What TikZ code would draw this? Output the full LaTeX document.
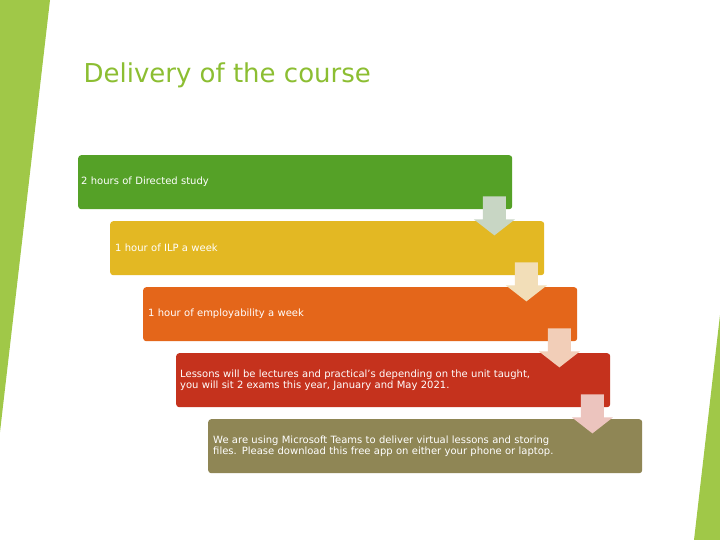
\documentclass[tikz,border=0pt]{standalone}
\usepackage{fontspec}
\setmainfont{DejaVu Sans}
\begin{document}
\begin{tikzpicture}[x=1pt,y=-1pt,
  stepbox/.style={rounded corners=3pt,minimum width=434pt,minimum height=54pt,anchor=north west,inner sep=0pt},
  txt/.style={anchor=west,text=white,font=\fontsize{10}{11.5}\selectfont,align=left,text width=350pt,inner sep=0pt}]
\useasboundingbox (0,0) rectangle (720,540);
\fill[white] (0,0) rectangle (720,540);
\fill[fill={rgb,255:red,160;green,200;blue,72}] (0,0) -- (50,0) -- (0,432) -- cycle;
\fill[fill={rgb,255:red,160;green,200;blue,72}] (720,315) -- (720,540) -- (694,540) -- cycle;
\node[anchor=west,text={rgb,255:red,140;green,190;blue,50},font=\fontsize{26}{30}\selectfont] (title) at (80,75) {Delivery of the course};
\definecolor{c1}{RGB}{85,161,39}
\definecolor{c2}{RGB}{227,184,35}
\definecolor{c3}{RGB}{228,102,26}
\definecolor{c4}{RGB}{197,50,29}
\definecolor{c5}{RGB}{143,134,85}
\definecolor{a1}{RGB}{200,214,196}
\definecolor{a2}{RGB}{242,222,184}
\definecolor{a3}{RGB}{242,206,184}
\definecolor{a4}{RGB}{236,196,190}
\node[stepbox,fill=c1] (b1) at (78,155) {};
\node[stepbox,fill=c2] (b2) at (110,221) {};
\node[stepbox,fill=c3] (b3) at (143,287) {};
\node[stepbox,fill=c4] (b4) at (176,353) {};
\node[stepbox,fill=c5] (b5) at (208,419) {};
\node[txt] (t1) at ([xshift=3pt]b1.west) {2 hours of Directed study};
\node[txt] (t2) at ([xshift=5pt]b2.west) {1 hour of ILP a week};
\node[txt] (t3) at ([xshift=5pt]b3.west) {1 hour of employability a week};
\node[txt] (t4) at ([xshift=4pt]b4.west) {Lessons will be lectures and practical's depending on the unit taught, you will sit 2 exams this year, January and May 2021.};
\node[txt] (t5) at ([xshift=5pt]b5.west) {We are using Microsoft Teams to deliver virtual lessons and storing files. Please download this free app on either your phone or laptop.};
\foreach \i/\c in {1/a1,2/a2,3/a3,4/a4}{
  \fill[\c] ([xshift=-29.5pt,yshift=13pt]b\i.south east) -- ++(23,0) -- ++(0,23) -- ++(9,0) -- ++(-20.5,16) -- ++(-20.5,-16) -- ++(9,0) -- cycle;
}
\end{tikzpicture}
\end{document}
